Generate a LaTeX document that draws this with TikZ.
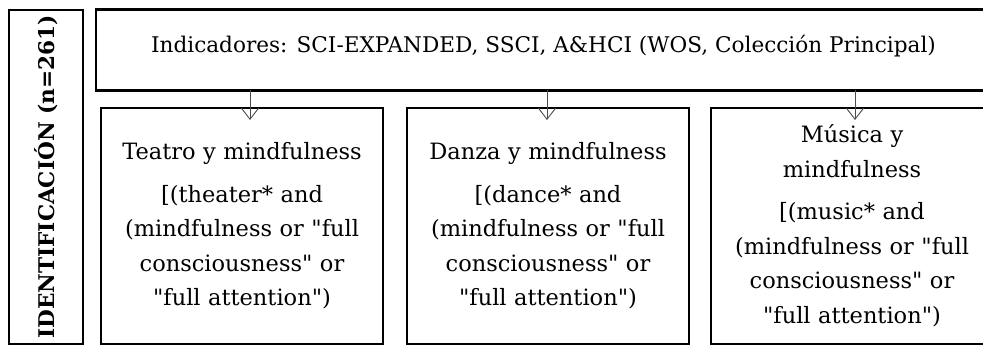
\documentclass[tikz,border=0pt]{standalone}
\usepackage{fontspec}
\setmainfont{DejaVu Serif}[Ligatures=TeXOff]
\usetikzlibrary{positioning, arrows.meta}

\begin{document}
\begin{tikzpicture}[x=1pt, y=1pt, node distance=24pt,
  box/.style={draw, line width=2.2pt, outer sep=0pt, inner sep=0pt, align=center, font=\fontsize{22.5}{34.5}\selectfont},
  query/.style={box, minimum width=282pt, minimum height=236pt, text width=262pt},
  arr/.style={-{Straight Barb[length=11pt, width=17pt, line width=0.9pt]}, line width=0.9pt, color=black!70}]
  \useasboundingbox (0,0) rectangle (983,-347);
  \node[box, rotate=90, minimum width=334pt, minimum height=74pt, font=\fontsize{21.6}{26}\selectfont\bfseries] (ident) at (46,-177) {IDENTIFICACIÓN (n=261)};
  \node[box, anchor=north west, minimum width=895pt, minimum height=81pt, text height=16pt, text depth=10pt, font=\fontsize{21.6}{26}\selectfont] (indic) at (96,-9.5) {Indicadores: SCI-EXPANDED, SSCI, A\&HCI (WOS, Colección Principal)};
  \node[query, anchor=north west] (teatro) at (101,-108) {Teatro y mindfulness\\[8pt][(theater* and\\(mindfulness or "full\\consciousness" or\\"full attention")};
  \node[query, right=of teatro] (danza) {Danza y mindfulness\\[8pt][(dance* and\\(mindfulness or "full\\consciousness" or\\"full attention")};
  \node[query, right=22pt of danza] (musica) {Música y\\mindfulness\\[8pt][(music* and\\(mindfulness or "full\\consciousness" or\\"full attention")};
  \draw[arr] ([xshift=8pt]teatro.north |- indic.south) -- ([xshift=8pt, yshift=-12pt]teatro.north);
  \draw[arr] ([xshift=-1pt]danza.north |- indic.south) -- ([xshift=-1pt, yshift=-12pt]danza.north);
  \draw[arr] ([xshift=3pt]musica.north |- indic.south) -- ([xshift=3pt, yshift=-12pt]musica.north);
\end{tikzpicture}
\end{document}
